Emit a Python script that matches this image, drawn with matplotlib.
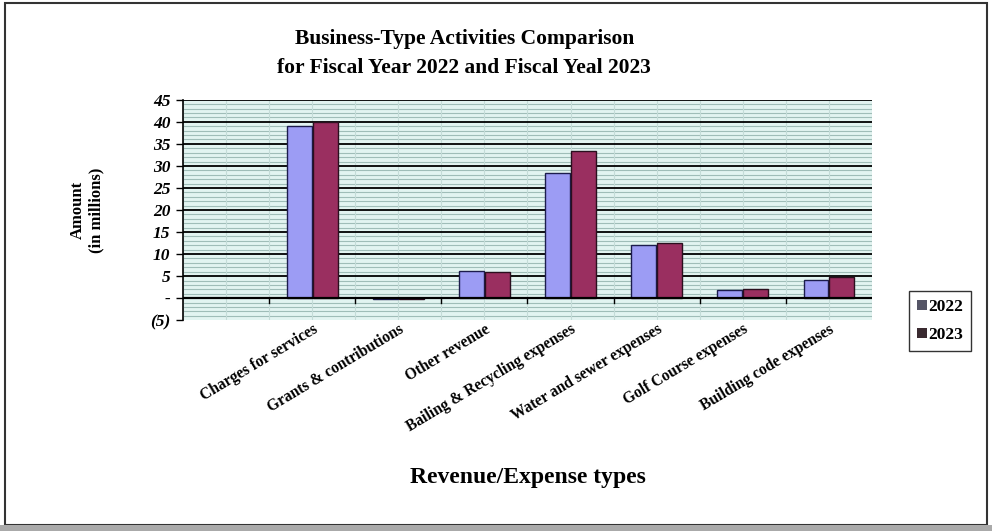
import matplotlib

matplotlib.use("Agg")
import matplotlib.pyplot as plt
from matplotlib.patches import Rectangle
from matplotlib.lines import Line2D
import numpy as np

# data (in millions), first slot is an empty category as in the original chart
categories = ["", "Charges for services", "Grants & contributions", "Other revenue",
              "Bailing & Recycling expenses", "Water and sewer expenses",
              "Golf Course expenses", "Building code expenses"]
fy2022 = [0, 39.0, -0.3, 6.2, 28.3, 12.0, 1.8, 4.2]
fy2023 = [0, 40.0, -0.3, 5.9, 33.3, 12.5, 2.0, 4.9]
yticks = [-5, 0, 5, 10, 15, 20, 25, 30, 35, 40, 45]
ytick_labels = ["(5)", "-", "5", "10", "15", "20", "25", "30", "35", "40", "45"]

plt.rcParams["font.family"] = ["Liberation Serif", "DejaVu Serif"]

fig = plt.figure(figsize=(9.92, 5.31), dpi=100)
ax = fig.add_axes([0.1845, 0.397, 0.6945, 0.415])

x = np.arange(len(categories))
w = 0.29
ax.set_facecolor("#e2f4f1")
ax.bar(x[1:] - 0.15, fy2022[1:], w, color="#9c9cf4", edgecolor="#1c1c4c",
       linewidth=1.0, zorder=3)
ax.bar(x[1:] + 0.15, fy2023[1:], w, color="#9a2f60", edgecolor="#2a0f1e",
       linewidth=1.0, zorder=3)

ax.set_xlim(-0.5, len(categories) - 0.5)
ax.set_ylim(-5, 45)

# fine and heavy horizontal grid
for v in np.arange(-5, 45.01, 1.0):
    if v % 5:
        ax.axhline(v, color="#9fbdb8", lw=0.8, zorder=1)
for v in yticks[1:]:
    ax.axhline(v, color="black", lw=1.3, zorder=2)
ax.axhline(0, color="black", lw=1.6, zorder=4)
for xv in np.arange(-0.5, len(categories), 0.5):
    ax.axvline(xv, color="#c4dcd8", lw=0.8, zorder=1)
# category ticks on the zero line
for xv in np.arange(0.5, len(categories) - 0.5, 1.0):
    ax.plot([xv, xv], [0, -1.2], color="black", lw=1.0, zorder=4)

ax.set_yticks(yticks)
ax.set_yticklabels(ytick_labels, fontsize=12.5, fontweight="bold", style="italic")
ax.tick_params(axis="y", direction="out", length=5, width=1.0, pad=4)

ax.set_xticks(x)
ax.set_xticklabels(categories, rotation=31, ha="right", rotation_mode="anchor",
                   fontsize=11.2, fontweight="bold")
ax.tick_params(axis="x", length=0, pad=1)

for side in ("top", "right", "bottom"):
    ax.spines[side].set_visible(False)
ax.spines["left"].set_linewidth(1.2)

ax.set_ylabel("Amount\n(in millions)", fontsize=12, fontweight="bold", labelpad=33)

fig.text(0.468, 0.9, "Business-Type Activities Comparison\nfor Fiscal Year 2022 and Fiscal Yeal 2023",
         ha="center", va="center", fontsize=15.5, fontweight="bold", linespacing=1.6)
fig.text(0.532, 0.1, "Revenue/Expense types", ha="center", va="center",
         fontsize=17, fontweight="bold")

handles = [Line2D([0], [0], marker="s", linestyle="", markersize=7,
                  markerfacecolor="#555566", markeredgewidth=0, label="2022"),
           Line2D([0], [0], marker="s", linestyle="", markersize=7,
                  markerfacecolor="#3a2a30", markeredgewidth=0, label="2023")]
leg = fig.legend(handles=handles, loc="center", bbox_to_anchor=(0.9475, 0.395),
                 fontsize=12.5, frameon=True, fancybox=False, handlelength=0.6,
                 handletextpad=0.1, borderpad=0.45, labelspacing=0.7)
leg.get_frame().set_edgecolor("black")
leg.get_frame().set_linewidth(1.0)
for t in leg.get_texts():
    t.set_fontweight("bold")

# outer chart border
fig.patches.append(Rectangle((0.005, 0.012), 0.99, 0.982, transform=fig.transFigure,
                             fill=False, edgecolor="#333333", linewidth=1.5))
fig.patches.append(Rectangle((0.0, 0.0), 1.0, 0.012, transform=fig.transFigure,
                             facecolor="#aaaaaa", edgecolor="none"))

fig.savefig("out.png", dpi=100)
